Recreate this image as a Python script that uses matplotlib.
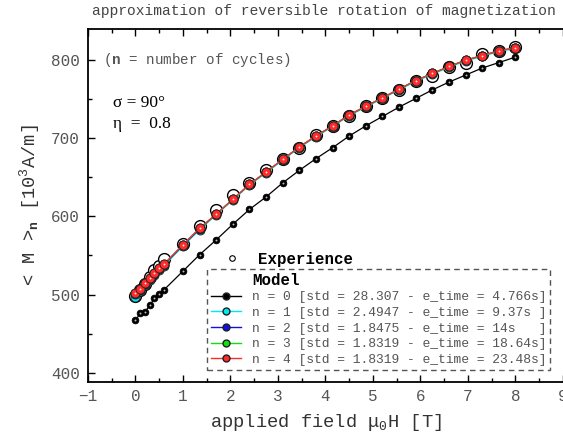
import matplotlib
matplotlib.use("Agg")
import matplotlib.pyplot as plt
from matplotlib.lines import Line2D

# valeurs
field = [0, 0.1, 0.2, 0.3, 0.4, 0.5, 0.6, 1.0, 1.35, 1.7, 2.05, 2.4, 2.75, 3.1,
         3.45, 3.8, 4.15, 4.5, 4.85, 5.2, 5.55, 5.9, 6.25, 6.6, 6.95, 7.3, 7.65, 8.0]

experience = [498, 506, 513, 522, 532, 537, 546, 565, 588, 608, 627, 643, 660, 674,
              688, 704, 716, 729, 742, 752, 762, 774, 780, 791, 796, 808, 812, 817]

model_n0 = [467, 476, 478, 486, 495, 501, 506, 530, 551, 570, 590, 609, 625, 643,
            659, 674, 688, 703, 716, 728, 740, 751, 762, 772, 781, 790, 797, 804]
model_n1 = [497, 504, 512, 519, 525, 532, 537, 562, 583, 602, 621, 640, 656, 672,
            688, 702, 715, 729, 740, 751, 762, 773, 782, 791, 799, 805, 811, 815]
model_n2 = [501, 506, 514, 520, 526, 533, 538, 563, 584, 603, 622, 641, 657, 673,
            689, 703, 716, 730, 741, 752, 763, 774, 783, 792, 800, 806, 812, 816]
model_n3 = [502, 507, 515, 521, 527, 534, 539, 564, 585, 603, 622, 641, 657, 673,
            689, 703, 716, 730, 741, 752, 763, 774, 783, 792, 800, 806, 812, 816]
model_n4 = [502, 507, 515, 521, 527, 534, 539, 564, 585, 603, 622, 641, 657, 673,
            689, 703, 716, 730, 741, 752, 763, 774, 783, 792, 800, 806, 812, 816]

model_labels = [
    "n = 0 [std = 28.307 - e_time = 4.766s]",
    "n = 1 [std = 2.4947 - e_time = 9.37s ]",
    "n = 2 [std = 1.8475 - e_time = 14s   ]",
    "n = 3 [std = 1.8319 - e_time = 18.64s]",
    "n = 4 [std = 1.8319 - e_time = 23.48s]",
]
model_colors = ["black", "#00e8f0", "#1010e0", "#10e010", "#ff2a2a"]

mono = "Liberation Mono"
grey = "#555555"
plt.rcParams["font.family"] = mono
plt.rcParams["mathtext.fontset"] = "custom"
plt.rcParams["mathtext.rm"] = mono
plt.rcParams["mathtext.it"] = mono
plt.rcParams["mathtext.bf"] = mono + ":bold"

fig = plt.figure(figsize=(5.63, 4.41), dpi=100)
ax = fig.add_axes([0.1563, 0.1338, 0.8437, 0.8005])

# points experimentaux (cercles vides)
ax.plot(field, experience, linestyle="none", marker="o", ms=8.5,
        mfc="white", mec="black", mew=1.0, zorder=2)

models = [model_n0, model_n1, model_n2, model_n3, model_n4]
for i, (vals, col) in enumerate(zip(models, model_colors)):
    ms = 4.8 if i == 0 else 6.5
    ax.plot(field, vals, color=col, lw=0.9, marker="o", ms=ms,
            mfc=col, mec="#202020" if i else "black", mew=0.6, zorder=3 + i)
    # petit reflet blanc
    ax.plot(field, vals, linestyle="none", marker="o", ms=1.4,
            mfc="#ffe0e0" if i else "#bbbbbb", mec="none", zorder=3 + i)

ax.set_xlim(-1, 9)
ax.set_ylim(388, 840)
ax.set_xticks(range(-1, 10))
ax.set_xticks([x + 0.5 for x in range(-1, 9)], minor=True)
ax.set_yticks([400, 500, 600, 700, 800])
ax.set_yticks([450, 550, 650, 750], minor=True)
ax.tick_params(which="both", direction="in", colors="black", labelcolor=grey,
               labelsize=11.5, top=True, right=False)
ax.tick_params(which="major", length=5, width=1.0)
ax.tick_params(which="minor", length=3, width=1.0)
ax.tick_params(axis="y", pad=6)
ax.tick_params(axis="x", pad=5)
for s in ["left", "bottom", "top"]:
    ax.spines[s].set_linewidth(1.3)
ax.spines["right"].set_visible(False)

ax.set_xlabel(r"applied field $\mathrm{\mu}_0$H [T]", fontsize=13.5,
              color="#333333", labelpad=6)
ax.set_ylabel(r"< M >$_{\mathbf{n}}$ [10$^3$A/m]", fontsize=13.5,
              color="#333333", labelpad=6)
fig.text(0.576, 0.9755, "approximation of reversible rotation of magnetization",
         ha="center", va="center", fontsize=10.5, color="#444444")

ax.text(0.032, 0.912, r"($\mathbf{n}$ = number of cycles)", transform=ax.transAxes,
        fontsize=10.3, color=grey, va="center")
ax.text(0.053, 0.79, "σ = 90°", transform=ax.transAxes, fontsize=12.5,
        family="Liberation Serif", va="center")
ax.text(0.053, 0.73, "η  =  0.8", transform=ax.transAxes, fontsize=12.5,
        family="Liberation Serif", va="center")

# legende "Experience" hors du cadre
exp_handle = Line2D([], [], linestyle="none", marker="o", ms=4, mfc="white",
                    mec="black", mew=0.8)
leg1 = ax.legend([exp_handle], ["Experience"], loc="center left",
                 bbox_to_anchor=(0.286, 0.348), frameon=False, handlelength=1.0,
                 handletextpad=1.2, borderpad=0, borderaxespad=0,
                 prop={"family": mono, "weight": "bold", "size": 11.3})
ax.add_artist(leg1)

handles = [Line2D([], [], linestyle="none", marker="")]
labels = ["Model"]
for col, lab in zip(model_colors, model_labels):
    handles.append(Line2D([], [], color=col, lw=1.0, marker="o", ms=5,
                          mfc=col, mec="#202020"))
    labels.append(lab)
leg2 = ax.legend(handles, labels, loc="upper left", bbox_to_anchor=(0.2505, 0.320),
                 borderaxespad=0, fancybox=False, framealpha=1, edgecolor=grey,
                 handlelength=2.3, handletextpad=0.85, labelspacing=0.26,
                 borderpad=0.3, prop={"family": mono, "size": 9.4})
leg2.get_frame().set_linestyle((0, (4, 3)))
leg2.get_frame().set_linewidth(1.0)
for t in leg2.get_texts()[1:]:
    t.set_color(grey)
leg2.get_texts()[0].set_fontweight("bold")
leg2.get_texts()[0].set_fontsize(11.3)
leg2.get_texts()[0].set_color("black")

fig.savefig("out.png", dpi=100)
